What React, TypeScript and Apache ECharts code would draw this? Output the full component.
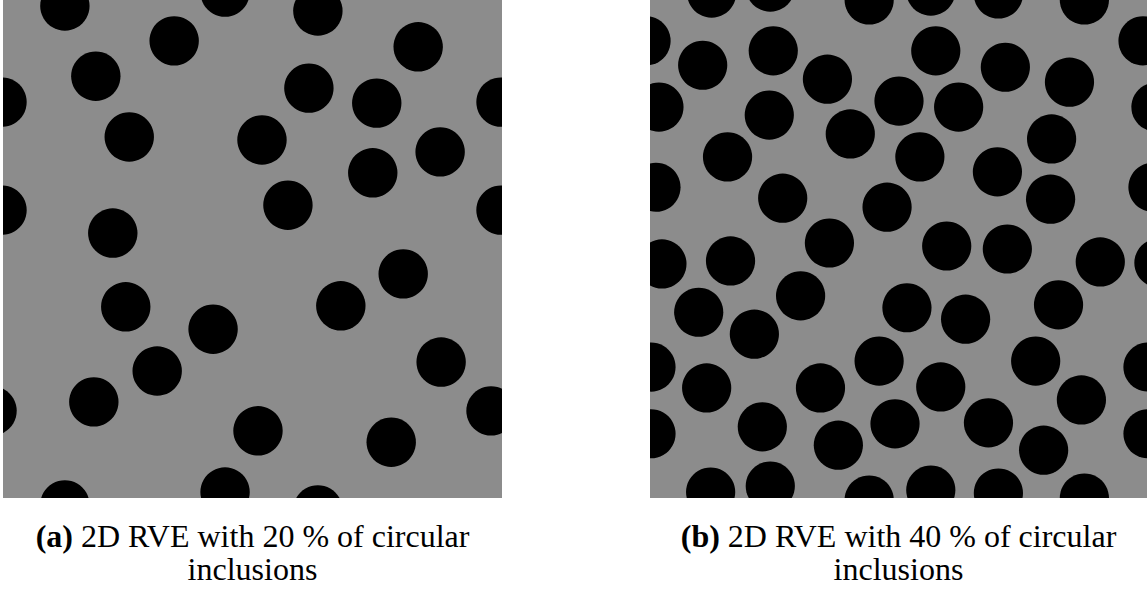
import React, { useEffect, useRef } from "react";
import * as echarts from "echarts";

// Circle centres in panel units (x to the right, y downward, panel side = 1)
const RADIUS = 0.0495;

const circlesA: [number, number][] = [
  [0.124, 0.012], [0.445, -0.016], [0.631, 0.022], [0.343, 0.082], [0.832, 0.094],
  [0.186, 0.153], [0.613, 0.177], [-0.002, 0.205], [0.749, 0.207], [0.998, 0.205],
  [0.253, 0.275], [0.519, 0.281], [0.876, 0.305], [0.741, 0.347], [0.571, 0.412],
  [-0.002, 0.422], [0.998, 0.422], [0.22, 0.468], [0.802, 0.55], [0.677, 0.614],
  [0.246, 0.616], [0.421, 0.661], [0.878, 0.727], [0.309, 0.745], [0.182, 0.807],
  [-0.022, 0.825], [0.978, 0.825], [0.511, 0.865], [0.778, 0.888], [0.445, 0.988],
  [0.124, 1.014], [0.631, 1.024],
];

const circlesB: [number, number][] = [
  [0.124, -0.014], [0.242, -0.026], [0.441, 0.0], [0.565, -0.018], [0.701, -0.012], [0.874, 0.0],
  [-0.008, 0.082], [0.992, 0.082], [0.106, 0.131], [0.248, 0.102], [0.357, 0.159], [0.575, 0.102],
  [0.715, 0.135], [0.844, 0.165], [0.501, 0.203], [0.018, 0.215], [1.018, 0.215], [0.24, 0.231],
  [0.621, 0.215], [0.403, 0.269], [0.808, 0.279], [0.156, 0.315], [0.543, 0.315], [0.012, 0.376],
  [1.012, 0.376], [0.699, 0.345], [0.267, 0.398], [0.477, 0.416], [0.806, 0.4], [0.361, 0.488],
  [0.597, 0.494], [0.719, 0.5], [0.906, 0.526], [0.024, 0.53], [1.024, 0.528], [0.162, 0.524],
  [0.098, 0.627], [0.303, 0.594], [0.517, 0.618], [0.635, 0.641], [0.822, 0.612], [0.21, 0.671],
  [0.002, 0.737], [1.002, 0.737], [0.461, 0.725], [0.776, 0.725], [0.114, 0.779], [0.343, 0.779],
  [0.585, 0.777], [0.868, 0.803], [0.002, 0.871], [1.002, 0.871], [0.226, 0.857], [0.493, 0.851],
  [0.681, 0.849], [0.379, 0.894], [0.792, 0.904], [0.122, 0.988], [0.242, 0.976], [0.441, 1.004],
  [0.565, 0.984], [0.701, 0.99], [0.874, 1.0],
];

const panelLabels = ["(a)", "(b)"];
const captionLine1 = ["2D RVE with 20 % of circular", "2D RVE with 40 % of circular"];
const captionLine2 = ["inclusions", "inclusions"];

const FONT = "'Liberation Serif', serif";
const FS = 32;

export default function App() {
  const ref = useRef<HTMLDivElement>(null);
  useEffect(() => {
    if (!ref.current) return;
    const chart = echarts.init(ref.current, undefined, { renderer: "svg" });
    const grids = [
      { left: 3, top: 0, width: 499, height: 498 },
      { left: 650, top: 0, width: 497, height: 498 },
    ];
    const renderCircle = (params: any, api: any) => {
      const c = api.coord([api.value(0), api.value(1)]);
      const s = api.size([RADIUS, RADIUS]);
      return {
        type: "circle",
        shape: { cx: c[0], cy: c[1], r: s[0] },
        style: { fill: "#000000" },
      };
    };
    const centers = grids.map((g) => g.left + g.width / 2);
    const graphic: any[] = [];
    centers.forEach((cx, i) => {
      graphic.push({
        type: "text",
        x: cx,
        y: 536,
        style: {
          text: `{b|${panelLabels[i]}} ${captionLine1[i]}`,
          rich: { b: { fontWeight: "bold", fontFamily: FONT, fontSize: FS, fill: "#000" } },
          fontFamily: FONT,
          fontSize: FS,
          fill: "#000",
          textAlign: "center",
          textVerticalAlign: "middle",
        },
      });
      graphic.push({
        type: "text",
        x: cx,
        y: 569,
        style: {
          text: captionLine2[i],
          fontFamily: FONT,
          fontSize: FS,
          fill: "#000",
          textAlign: "center",
          textVerticalAlign: "middle",
        },
      });
    });
    chart.setOption({
      animation: false,
      grid: grids.map((g) => ({
        ...g,
        show: true,
        backgroundColor: "#8c8c8c",
        borderWidth: 0,
      })),
      xAxis: grids.map((_, i) => ({ type: "value", gridIndex: i, min: 0, max: 1, show: false })),
      yAxis: grids.map((_, i) => ({ type: "value", gridIndex: i, min: 0, max: 1, inverse: true, show: false })),
      series: [circlesA, circlesB].map((d, i) => ({
        type: "custom",
        xAxisIndex: i,
        yAxisIndex: i,
        clip: true,
        data: d,
        renderItem: renderCircle,
      })),
      graphic,
    });
    return () => chart.dispose();
  }, []);
  return (
    <div
      ref={ref}
      style={{ position: "absolute", left: 0, top: 0, width: 1148, height: 589, background: "#fff" }}
    />
  );
}
